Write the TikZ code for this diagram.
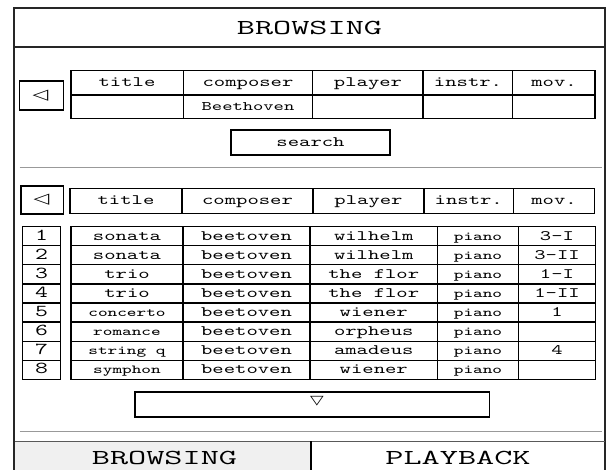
\documentclass[tikz,border=0pt]{standalone}
\usepackage{fontspec}
\usepackage{tikz}

\newfontfamily\uifont[FakeStretch=1.5]{Latin Modern Mono}
\newfontfamily\bigfont[FakeStretch=1.65]{Latin Modern Mono}
\newfontfamily\symfont[FakeStretch=1.4]{DejaVu Sans}
\newcommand{\sm}{\fontsize{9.2}{10}\selectfont}

\tikzset{
  frame/.style={line width=1.3pt,black!85},
  grid/.style={line width=0.9pt,black},
  sepline/.style={line width=1.1pt,black!40},
  cell/.style={font=\uifont\fontsize{10.8}{12}\selectfont,inner sep=0pt,text height=6.5pt,text depth=1.5pt},
  big/.style={font=\bigfont\fontsize{16}{18}\selectfont,inner sep=0pt,text height=10pt,text depth=0pt},
  arrowsym/.style={inner sep=0pt,font=\symfont\fontsize{11}{11}\selectfont}
}

\begin{document}
\begin{tikzpicture}[x=0.75pt,y=-0.75pt]
\useasboundingbox (0,0) rectangle (608,470);

% outer frame and title
\draw[frame] (14,470) -- (14,8) -- (605,8) -- (605,470);
\draw[frame] (14,47) -- (605,47);
\node[big] (title) at (309.5,28) {BROWSING};

% query table
\draw[grid] (19.5,81) rectangle (63.5,110);
\node[arrowsym] (qback) at (40.5,95.5) {◁};
\draw[grid] (71,70.5) rectangle (595,118.5);
\draw[grid] (71,95) -- (595,95);
\foreach \x in {183.5,312.5,423,512.5}
  \draw[grid] (\x,70.5) -- (\x,118.5);
\foreach \lbl/\x [count=\i] in {title/127,composer/248,player/368,instr./468,mov./554}
  \node[cell] (q-\i) at (\x,83) {\lbl};
\node[cell,font=\uifont\fontsize{9.8}{10}\selectfont] (q-who) at (248,107) {Beethoven};

\draw[grid] (231,130) rectangle (390,155);
\node[cell] (search) at (310.5,143) {search};

\draw[sepline] (19.5,167.5) -- (602,167.5);

% result header
\draw[grid] (21,186) rectangle (63.5,214);
\node[arrowsym] (rback) at (41.5,200) {◁};
\draw[grid] (70,188.5) rectangle (594.5,213.5);
\foreach \x in {182,313,424,513.5}
  \draw[grid] (\x,188.5) -- (\x,213.5);
\foreach \lbl/\x [count=\i] in {title/126,composer/247.5,player/368.5,instr./468.75,mov./554}
  \node[cell] (h-\i) at (\x,201.5) {\lbl};

% result rows
\draw[grid] (22.5,226.7) rectangle (60.5,379.3);
\draw[grid] (71,226.7) rectangle (595.3,379.3);
\foreach \k in {1,...,7} {
  \draw[grid] (22.5,{226.7+19.08*\k}) -- (60.5,{226.7+19.08*\k});
  \draw[grid] (71,{226.7+19.08*\k}) -- (595.3,{226.7+19.08*\k});
}
\foreach \x in {183,310,437.5,518.5}
  \draw[grid] (\x,226.7) -- (\x,379.3);
\foreach \n/\t/\c/\p/\s/\m in {
    1/sonata/beetoven/wilhelm/\sm piano/3—I,
    2/sonata/beetoven/wilhelm/\sm piano/3—II,
    3/trio/beetoven/the flor/\sm piano/1—I,
    4/trio/beetoven/the flor/\sm piano/1—II,
    5/\sm concerto/beetoven/wiener/\sm piano/1,
    6/\sm romance/beetoven/orpheus/\sm piano/,
    7/\sm string q/beetoven/amadeus/\sm piano/4,
    8/\sm symphon/beetoven/wiener/\sm piano/} {
  \node[cell,font=\uifont\fontsize{12.5}{13}\selectfont] (n-\n) at (41.5,{226.7+19.08*(\n-0.5)+0.5}) {\n};
  \node[cell] (t-\n) at (127,{226.7+19.08*(\n-0.5)+0.5}) {\t};
  \node[cell] (c-\n) at (246.5,{226.7+19.08*(\n-0.5)+0.5}) {\c};
  \node[cell] (p-\n) at (373.75,{226.7+19.08*(\n-0.5)+0.5}) {\p};
  \node[cell] (s-\n) at (478,{226.7+19.08*(\n-0.5)+0.5}) {\s};
  \node[cell] (m-\n) at (557,{226.7+19.08*(\n-0.5)+0.5}) {\m};
}

\draw[grid] (135,392) rectangle (489.5,417);
\node[arrowsym,font=\symfont\fontsize{9.5}{10}\selectfont] (more) at (317,401) {▽};

\draw[sepline] (19.5,431.5) -- (602,431.5);

% tabs
\fill[black!6] (14,441.5) rectangle (311,470);
\draw[line width=1.1pt,black!65] (14,441.5) -- (605,441.5);
\draw[grid] (311,441.5) -- (311,470);
\draw[frame] (14,441.5) -- (14,470);
\node[big] (tab-b) at (164.5,458) {BROWSING};
\node[big] (tab-p) at (458,458) {PLAYBACK};
\end{tikzpicture}
\end{document}
